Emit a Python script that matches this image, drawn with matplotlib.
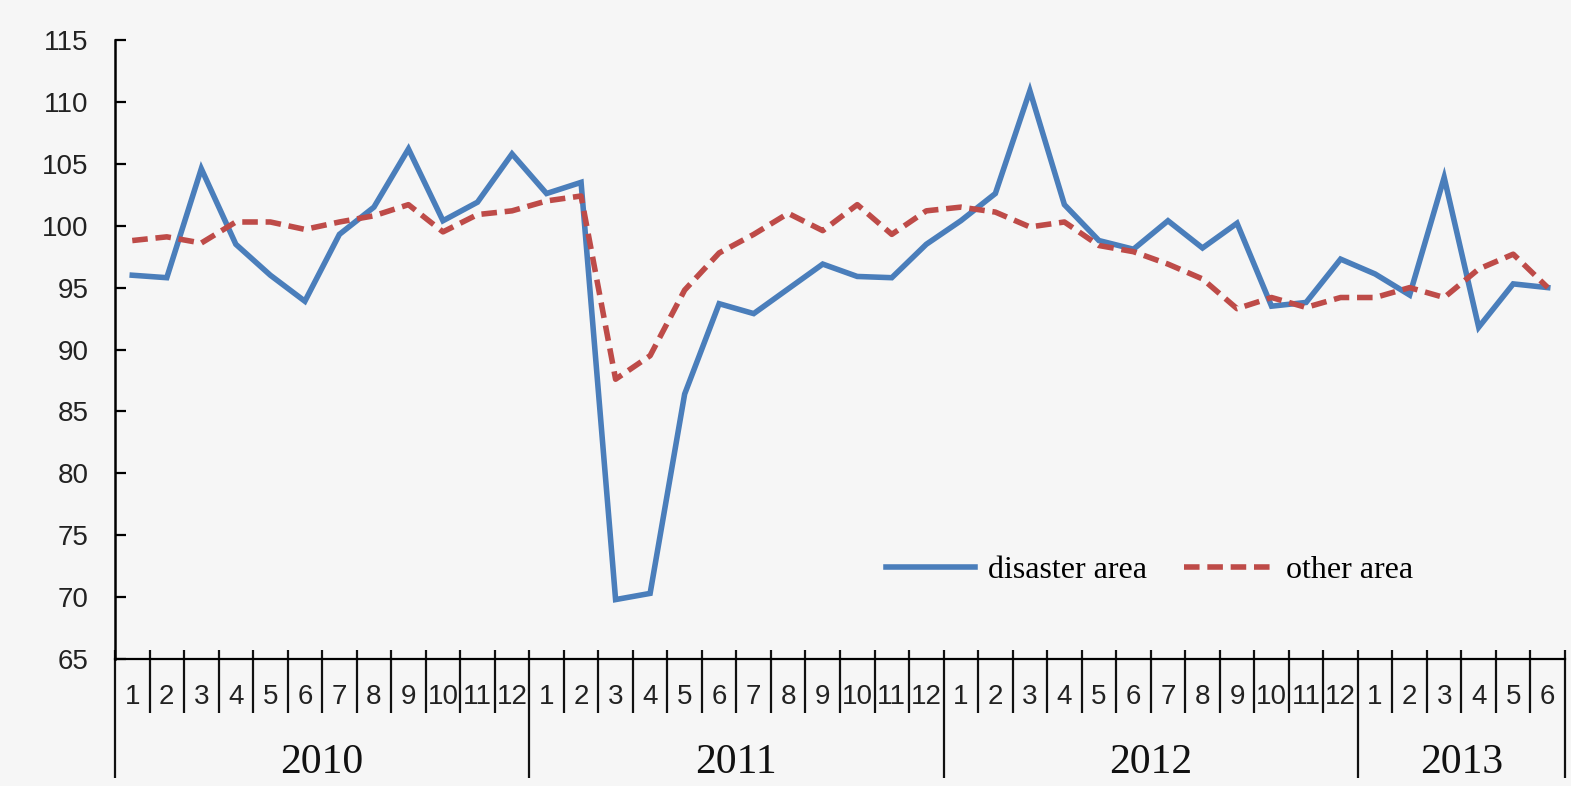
import matplotlib
matplotlib.use('Agg')
import matplotlib.pyplot as plt
import matplotlib.transforms as mtransforms
import numpy as np

# monthly index, Jan 2010 - Jun 2013
years = ['2010', '2011', '2012', '2013']
months_per_year = [12, 12, 12, 6]
disaster = [96.0, 95.8, 104.6, 98.5, 96.0, 93.9, 99.3, 101.5, 106.2, 100.4, 101.9, 105.8,
            102.6, 103.5, 69.8, 70.3, 86.4, 93.7, 92.9, 94.9, 96.9, 95.9, 95.8, 98.5,
            100.4, 102.6, 110.9, 101.7, 98.8, 98.1, 100.4, 98.2, 100.2, 93.5, 93.8, 97.3,
            96.1, 94.4, 103.9, 91.8, 95.3, 95.0]
other = [98.8, 99.1, 98.6, 100.3, 100.3, 99.7, 100.3, 100.8, 101.7, 99.5, 100.9, 101.2,
         102.0, 102.4, 87.6, 89.5, 94.8, 97.8, 99.3, 101.0, 99.6, 101.7, 99.3, 101.2,
         101.5, 101.1, 99.9, 100.3, 98.4, 97.9, 96.9, 95.7, 93.3, 94.2, 93.4, 94.2,
         94.2, 95.0, 94.2, 96.5, 97.7, 95.0]
yticks = [65, 70, 75, 80, 85, 90, 95, 100, 105, 110, 115]

bg = '#f6f6f6'
blue = '#4a7ebb'
red = '#be4b48'
sans = ['Liberation Sans', 'DejaVu Sans']
serif = ['Liberation Serif', 'DejaVu Serif']

month_labels = [str(m + 1) for n in months_per_year for m in range(n)]
n = len(month_labels)
x = np.arange(n) + 0.5

fig = plt.figure(figsize=(15.71, 7.86), dpi=100, facecolor=bg)
ax = fig.add_axes([115 / 1571, 1 - 659 / 786, 1450 / 1571, 619 / 786])
ax.set_facecolor(bg)

ax.plot(x, disaster, color=blue, lw=4.0, solid_joinstyle='miter', label='disaster area')
ax.plot(x, other, color=red, lw=4.0, dashes=(2.8, 1.4), label='other area')

ax.set_xlim(0, n)
ax.set_ylim(65, 115)
ax.set_yticks(yticks)
ax.tick_params(axis='y', direction='in', length=8, width=1.6, pad=19, labelsize=20)
for lab in ax.get_yticklabels():
    lab.set_family(sans)
    lab.set_color('#222222')

for s in ['top', 'right']:
    ax.spines[s].set_visible(False)
ax.spines['left'].set_linewidth(1.8)
ax.spines['bottom'].set_linewidth(1.6)

# month cells and labels
ax.set_xticks([])
trans = mtransforms.blended_transform_factory(ax.transData, ax.transAxes)
px = 1 / 619  # one pixel in axes units (vertical)
bounds = np.arange(n + 1)
year_starts = np.cumsum([0] + months_per_year)
month_b = [b for b in bounds if b not in year_starts]
ax.vlines(month_b, 9 * px, -54 * px, transform=trans, color='#111111', lw=1.6, clip_on=False)
ax.vlines(year_starts, 9 * px, -119 * px, transform=trans, color='#111111', lw=1.6, clip_on=False)
for xi, lab in zip(x, month_labels):
    ax.text(xi, -38 * px, lab, transform=trans, ha='center', va='center',
            fontsize=20, family=sans, color='#222222')
for i, yr in enumerate(years):
    xc = (year_starts[i] + year_starts[i + 1]) / 2
    ax.text(xc, -104 * px, yr, transform=trans, ha='center', va='center',
            fontsize=30, family=serif, color='#111111')

ax.legend(loc='center left', bbox_to_anchor=((886 - 115) / 1450, (659 - 570) / 619),
          ncol=2, frameon=False, borderpad=0, borderaxespad=0,
          handlelength=2.8, handletextpad=0.4, columnspacing=1.15,
          prop={'family': serif, 'size': 23})

fig.savefig('out.png', dpi=100, facecolor=bg)
